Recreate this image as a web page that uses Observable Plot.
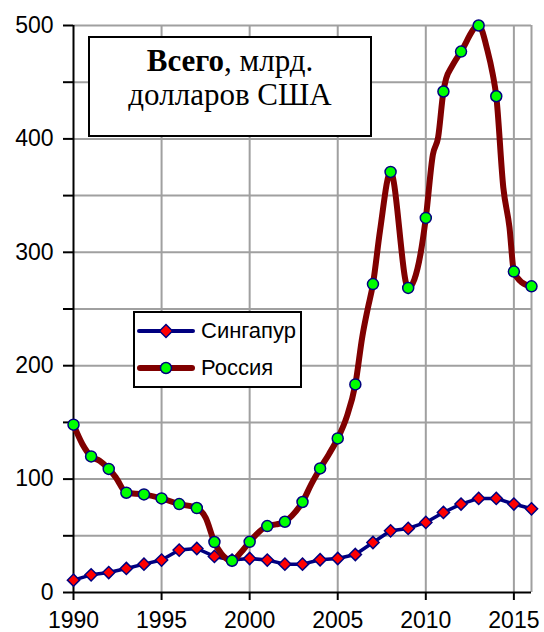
<!DOCTYPE html>
<html>
<head>
<meta charset="utf-8">
<script src="https://cdn.jsdelivr.net/npm/d3@7"></script>
<script src="https://cdn.jsdelivr.net/npm/@observablehq/plot@0.6"></script>
<style>
  html, body { margin: 0; padding: 0; background: #fff; }
  #wrap { position: relative; width: 544px; height: 632px; font-family: "Liberation Sans", Arial, sans-serif; }
  #title {
    position: absolute; left: 88px; top: 36px; width: 280px; height: 91px;
    border: 2px solid #000; background: #fff; box-sizing: content-box;
    font-family: "Liberation Serif", "Times New Roman", serif; font-size: 31px;
    line-height: 34px; text-align: center; padding-top: 6px; color: #000;
  }
  #legend {
    position: absolute; left: 133px; top: 311px; width: 165px; height: 73px;
    border: 2px solid #000; background: #fff;
    font-family: "Liberation Sans", Arial, sans-serif; font-size: 22px; color: #000;
  }
  .row { position: absolute; left: 0; height: 30px; display: flex; align-items: center; }
  .row svg { margin-left: 2px; }
  .row span { margin-left: 6px; }
</style>
</head>
<body>
<div id="wrap">
  <div id="chart"></div>
  <div id="title"><b>Всего</b>, млрд.<br>долларов США</div>
  <div id="legend">
    <div class="row" style="top:3px">
      <svg width="58" height="20"><line x1="2" y1="10" x2="56" y2="10" stroke="#000080" stroke-width="4" stroke-linecap="round"/><path d="M29,3.5L35.5,10L29,16.5L22.5,10Z" fill="#ff0000" stroke="#000080" stroke-width="1.5"/></svg>
      <span>Сингапур</span>
    </div>
    <div class="row" style="top:40px">
      <svg width="58" height="20"><line x1="3" y1="10" x2="55" y2="10" stroke="#800000" stroke-width="6" stroke-linecap="round"/><circle cx="29" cy="10" r="5.5" fill="#00ff00" stroke="#000080" stroke-width="1.5"/></svg>
      <span>Россия</span>
    </div>
  </div>
</div>
<script>
const years = d3.range(1990, 2017);
const singapore = [10.9, 15.6, 17.6, 21.2, 25, 28.6, 37.4, 38.8, 31.8, 28.6, 30, 28.6, 25, 25, 28.9, 30, 33.5, 44.1, 54.4, 56.5, 61.8, 70.6, 78, 83, 83, 78, 73.8];
const russia = [148, 120, 109, 88, 86.5, 83, 78, 74.5, 44.5, 28, 44.7, 58.6, 62.4, 79.8, 109.4, 135.9, 183.5, 272, 370.9, 268.6, 330.3, 441.8, 477, 500, 437.6, 283, 270];
// intermediate points of the Russia curve
const russiaMidYears = [1990.5, 1991.5, 1992.4, 1997.5, 1998.4, 1999.5, 2000.4, 2001.5, 2002.4, 2003.5, 2004.5, 2005.5, 2006.4, 2006.7, 2007.4, 2009.7, 2010.4, 2010.7, 2011.15, 2011.45, 2013.5, 2013.8, 2014.4, 2014.75, 2015.45];
const russiaMidValues = [131, 116, 101.5, 66, 34, 35.3, 51.5, 60, 67.7, 95.6, 122, 154.4, 226, 250, 319, 298.6, 386, 401.5, 453, 463, 478, 457, 357, 322, 273.5];
const yTicks = d3.range(0, 501, 50);
const xTicks = [1990, 1995, 2000, 2005, 2010, 2015];
const xGrid = [1995, 2000, 2005, 2010, 2015, 2016];

const sgRows = years.map((year, i) => ({year, value: singapore[i]}));
const ruRows = years.map((year, i) => ({year, value: russia[i]}));
const ruLine = ruRows.concat(russiaMidYears.map((year, i) => ({year, value: russiaMidValues[i]})))
  .sort((a, b) => a.year - b.year);

const grid = {stroke: "#a0a0a0", strokeOpacity: 1, strokeWidth: 2};

const chart = Plot.plot({
  width: 544,
  height: 632,
  marginLeft: 73,
  marginRight: 13,
  marginTop: 25,
  marginBottom: 40,
  style: {fontFamily: "'Liberation Sans', Arial, sans-serif", background: "#fff", overflow: "visible"},
  x: {domain: [1990, 2016], label: null},
  y: {domain: [0, 500], label: null},
  marks: [
    Plot.gridY(yTicks.filter(d => d > 0), grid),
    Plot.gridX(xGrid, grid),
    Plot.axisY(yTicks, {tickSize: 10, tickPadding: 10, tickFormat: d => d % 100 ? "" : String(d), fontSize: 23, strokeWidth: 2, stroke: "#000", label: null}),
    Plot.axisX(xTicks, {tickSize: 8, tickPadding: 11, tickFormat: d => String(d), fontSize: 23, strokeWidth: 2, stroke: "#000", label: null}),
    Plot.ruleY([0], {stroke: "#000", strokeWidth: 2}),
    Plot.ruleX([1990], {stroke: "#000", strokeWidth: 2}),
    Plot.line(sgRows, {x: "year", y: "value", stroke: "#000080", strokeWidth: 3.5}),
    Plot.dot(sgRows, {x: "year", y: "value", symbol: "diamond2", r: 5.5, fill: "#ff0000", stroke: "#000080", strokeWidth: 1.5}),
    Plot.line(ruLine, {x: "year", y: "value", stroke: "#800000", strokeWidth: 6, curve: "monotone-x"}),
    Plot.dot(ruRows, {x: "year", y: "value", r: 5.5, fill: "#00ff00", stroke: "#000080", strokeWidth: 1.5})
  ]
});
document.getElementById("chart").appendChild(chart);
</script>
</body>
</html>
